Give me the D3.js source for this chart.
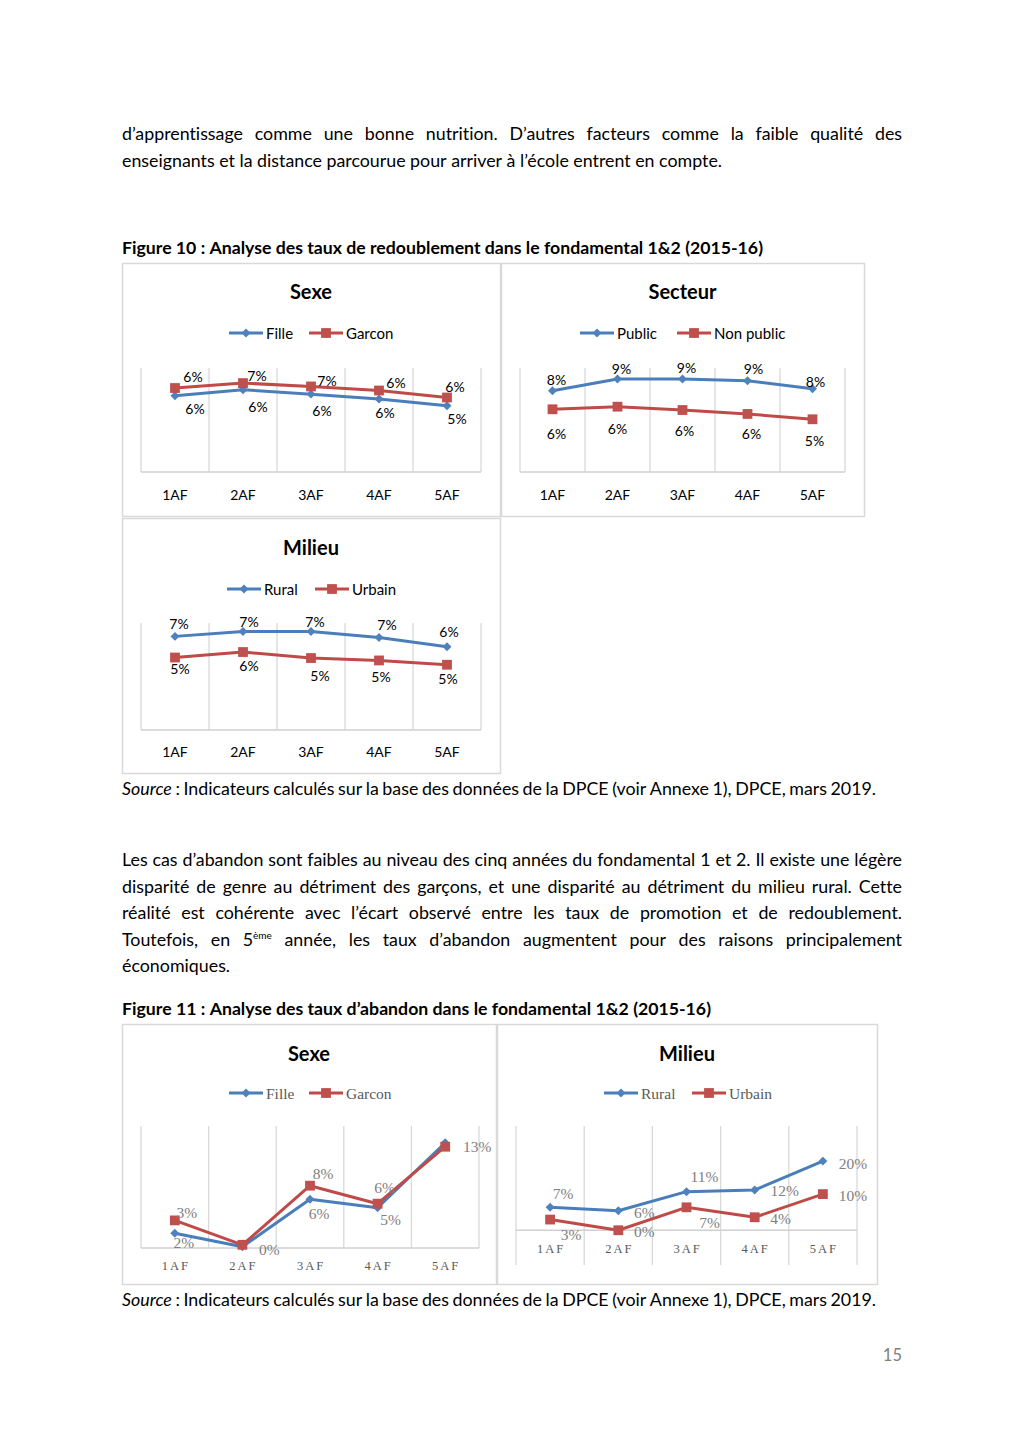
<!DOCTYPE html>
<html>
<head>
  <meta charset="utf-8">
  <title>Figures 10 et 11 - redoublement et abandon</title>
  <script src="https://cdn.jsdelivr.net/npm/d3@7"></script>
  <style>
    body { margin: 0; background: #fff; }
    svg { display: block; }
    text { font-variant-ligatures: none; }
  </style>
</head>
<body>
  <svg id="page" width="1024" height="1449"></svg>
  <script>
    // categories shared by every chart
    const categories = ["1AF", "2AF", "3AF", "4AF", "5AF"];

    // Figure 10 : taux de redoublement (en %)
    const redSexeFille = [5.86, 6.33, 5.99, 5.61, 5.09];
    const redSexeGarcon = [6.46, 6.84, 6.58, 6.27, 5.73];
    const redSecteurPublic = [7.82, 8.94, 8.94, 8.78, 8.01];
    const redSecteurNonPublic = [6.03, 6.28, 5.96, 5.58, 5.07];
    const redMilieuRural = [7.0, 7.37, 7.37, 6.92, 6.22];
    const redMilieuUrbain = [5.42, 5.83, 5.38, 5.2, 4.88];

    // Figure 11 : taux d'abandon (en %)
    const abSexeFille = [1.84, 0.16, 6.1, 5.04, 13.16];
    const abSexeGarcon = [3.45, 0.4, 7.79, 5.54, 12.66];
    const abMilieuRural = [6.6, 5.6, 11.1, 11.6, 19.9];
    const abMilieuUrbain = [3.08, 0.0, 6.6, 3.74, 10.4];

    const SANS = "Lato, 'Open Sans', sans-serif";
    const SERIF = "'Liberation Serif', 'DejaVu Serif', serif";
    const blue = "#4F81BD", red = "#C0504D";
    const grid = "#D9D9D9";

    const svg = d3.select("#page");
    svg.append("rect").attr("width", 1024).attr("height", 1449).attr("fill", "#fff");

    // ---------- body text ----------
    const LEFT = 122;

    // font size that makes a plain line as wide as it is in the document
    function fitSize(str, weight, target) {
      const t = svg.append("text")
        .style("font-family", SANS).style("font-size", "16px").style("font-weight", weight)
        .text(str);
      const w = t.node().getComputedTextLength();
      t.remove();
      return 16 * target / w;
    }

    // split runs into words, keeping each run's style
    function toWords(runs) {
      const words = [];
      let cur = [];
      runs.forEach(r => {
        r.t.split(" ").forEach((tok, k) => {
          if (k > 0 && cur.length) { words.push(cur); cur = []; }
          if (tok) cur.push(Object.assign({}, r, { t: tok }));
        });
      });
      if (cur.length) words.push(cur);
      return words;
    }

    // words are spread so the line ends where it ends in the document
    function drawLine(line, size, weight) {
      const words = toWords(line.runs);
      const nodes = words.map(w => {
        const t = svg.append("text")
          .attr("y", line.y + 6)
          .style("font-family", SANS)
          .style("font-size", size + "px")
          .style("font-weight", weight || 400)
          .attr("fill", "#000");
        w.forEach(r => {
          const ts = t.append("tspan").text(r.t);
          if (r.i) ts.style("font-style", "italic");
          if (r.sup) ts.style("font-size", "10px").attr("dy", -7);
        });
        return t;
      });
      const widths = nodes.map(n => n.node().getComputedTextLength());
      const gap = nodes.length > 1 ? (line.x1 - LEFT - d3.sum(widths)) / (nodes.length - 1) : 0;
      let x = LEFT;
      nodes.forEach((n, i) => { n.attr("x", x); x += widths[i] + gap; });
    }

    const bodyLines = [
      { y: 134, x1: 902, runs: [{ t: "d’apprentissage comme une bonne nutrition. D’autres facteurs comme la faible qualité des" }] },
      { y: 161, x1: 722, runs: [{ t: "enseignants et la distance parcourue pour arriver à l’école entrent en compte." }] },
      { y: 860, x1: 902, runs: [{ t: "Les cas d’abandon sont faibles au niveau des cinq années du fondamental 1 et 2. Il existe une légère" }] },
      { y: 887, x1: 902, runs: [{ t: "disparité de genre au détriment des garçons, et une disparité au détriment du milieu rural. Cette" }] },
      { y: 913, x1: 902, runs: [{ t: "réalité est cohérente avec l’écart observé entre les taux de promotion et de redoublement." }] },
      { y: 940, x1: 902, runs: [{ t: "Toutefois, en 5" }, { t: "ème", sup: true }, { t: " année, les taux d’abandon augmentent pour des raisons principalement" }] },
      { y: 966, x1: 229, runs: [{ t: "économiques." }] },
      { y: 789, x1: 876, runs: [{ t: "Source", i: true }, { t: " : Indicateurs calculés sur la base des données de la DPCE (voir Annexe 1), DPCE, mars 2019." }] },
      { y: 1300, x1: 876, runs: [{ t: "Source", i: true }, { t: " : Indicateurs calculés sur la base des données de la DPCE (voir Annexe 1), DPCE, mars 2019." }] }
    ];
    const bodySize = fitSize(bodyLines[1].runs[0].t, 400, 600);
    bodyLines.forEach(l => drawLine(l, bodySize));

    const fig10 = "Figure 10 : Analyse des taux de redoublement dans le fondamental 1&2 (2015-16)";
    const fig11 = "Figure 11 : Analyse des taux d’abandon dans le fondamental 1&2 (2015-16)";
    const boldSize = fitSize(fig10, 700, 641);
    drawLine({ y: 248, x1: 763, runs: [{ t: fig10 }] }, boldSize, 700);
    drawLine({ y: 1009, x1: 711, runs: [{ t: fig11 }] }, boldSize, 700);

    svg.append("text").attr("x", 902).attr("y", 1361)
      .attr("text-anchor", "end")
      .style("font-family", SANS).style("font-size", "16.5px")
      .attr("fill", "#808080").text("15");

    // ---------- charts ----------
    const charts = [
      {
        box: [122, 263, 378, 253], title: "Sexe", titleY: 291, legendY: 333, legendX: [229, 309],
        names: ["Fille", "Garcon"], series: [redSexeFille, redSexeGarcon],
        xr: [141, 481], plot: [472, 368], yDomain: [0, 8], catY: 495, serif: false,
        offsets: [
          [[20, 13], [15, 17], [11, 16], [6, 13], [10, 13]],
          [[18, -12], [14, -8], [16, -6], [17, -8], [8, -11]]
        ]
      },
      {
        box: [501, 263, 363, 253], title: "Secteur", titleY: 291, legendY: 333, legendX: [580, 677],
        names: ["Public", "Non public"], series: [redSecteurPublic, redSecteurNonPublic],
        xr: [520, 845], plot: [472, 368], yDomain: [0, 10], catY: 495, serif: false,
        offsets: [
          [[4, -11], [4, -11], [4, -12], [6, -12], [3, -7]],
          [[4, 24], [0, 22], [2, 20], [4, 20], [2, 21]]
        ]
      },
      {
        box: [122, 518, 378, 255], title: "Milieu", titleY: 547, legendY: 589, legendX: [227, 315],
        names: ["Rural", "Urbain"], series: [redMilieuRural, redMilieuUrbain],
        xr: [141, 481], plot: [730, 623], yDomain: [0, 8], catY: 752, serif: false,
        offsets: [
          [[4, -13], [6, -10], [4, -10], [8, -13], [2, -15]],
          [[5, 11], [6, 13], [9, 17], [2, 16], [1, 14]]
        ]
      },
      {
        box: [122, 1024, 374, 260], title: "Sexe", titleY: 1053, legendY: 1093, legendX: [229, 309],
        names: ["Fille", "Garcon"], series: [abSexeFille, abSexeGarcon],
        xr: [141, 479], plot: [1248, 1126], yDomain: [0, 15.25], catY: 1266, serif: true,
        offsets: [
          [[9, 9], [27, 3], [9, 14], [13, 12], null],
          [[12, -8], null, [13, -12], [7, -16], [32, 0]]
        ]
      },
      {
        box: [497, 1024, 380, 260], title: "Milieu", titleY: 1053, legendY: 1093, legendX: [604, 692],
        names: ["Rural", "Urbain"], series: [abMilieuRural, abMilieuUrbain],
        xr: [516, 857], plot: [1265, 1126], yDomain: [-10, 30], catY: 1249, serif: true,
        offsets: [
          [[13, -14], [26, 2], [18, -15], [30, 1], [30, 2]],
          [[21, 15], [26, 1], [23, 15], [26, 1], [30, 1]]
        ]
      }
    ];

    const colors = [blue, red];
    const lineColors = ["#4A7EBB", "#BE4B48"];

    function marker(sel, k) {
      if (k === 0) {
        sel.attr("d", d3.symbol(d3.symbolSquare, 40)())
          .attr("transform", function () { return d3.select(this).attr("transform") + " rotate(45)"; });
      } else {
        sel.attr("d", d3.symbol(d3.symbolSquare, 96)());
      }
      sel.attr("fill", colors[k]);
    }

    function drawChart(c) {
      const g = svg.append("g");
      const [bx, by, bw, bh] = c.box;
      const textFont = c.serif ? SERIF : SANS;
      const textCol = c.serif ? "#595959" : "#000";

      g.append("rect")
        .attr("x", bx + 0.5).attr("y", by + 0.5)
        .attr("width", bw).attr("height", bh)
        .attr("fill", "#fff").attr("stroke", grid).attr("stroke-width", 1.5);

      g.append("text")
        .attr("x", bx + bw / 2).attr("y", c.titleY)
        .attr("text-anchor", "middle").attr("dominant-baseline", "central")
        .style("font-family", SANS).style("font-size", "20px").style("font-weight", 700)
        .text(c.title);

      // legend
      c.names.forEach((name, k) => {
        const lx = c.legendX[k];
        g.append("line")
          .attr("x1", lx).attr("x2", lx + 34)
          .attr("y1", c.legendY).attr("y2", c.legendY)
          .attr("stroke", lineColors[k]).attr("stroke-width", 3);
        g.append("path")
          .attr("transform", `translate(${lx + 17},${c.legendY})`)
          .call(marker, k);
        g.append("text")
          .attr("x", lx + 37).attr("y", c.legendY)
          .attr("dominant-baseline", "central")
          .style("font-family", textFont).style("font-size", c.serif ? "15.5px" : "15px")
          .attr("fill", textCol)
          .text(name);
      });

      const x = d3.scaleBand().domain(categories).range(c.xr).padding(0);
      const y = d3.scaleLinear().domain(c.yDomain).range(c.plot);
      const cx = d => x(d) + x.bandwidth() / 2;

      // vertical gridlines at category boundaries
      const bounds = categories.map(d => x(d)).concat([c.xr[1]]);
      g.selectAll(".grid").data(bounds).join("line")
        .attr("class", "grid")
        .attr("x1", d => d).attr("x2", d => d)
        .attr("y1", c.plot[1]).attr("y2", c.plot[0])
        .attr("stroke", grid).attr("stroke-width", 1.3);

      // horizontal axis at zero
      g.append("line")
        .attr("x1", c.xr[0]).attr("x2", c.xr[1])
        .attr("y1", y(0)).attr("y2", y(0))
        .attr("stroke", "#D0D0D0").attr("stroke-width", 1.3);

      // category labels
      const ax = g.append("g")
        .attr("transform", `translate(0,${c.catY})`)
        .call(d3.axisBottom(x).tickSize(0).tickPadding(0));
      ax.select(".domain").remove();
      ax.selectAll("text")
        .attr("y", 0).attr("dy", "0.35em")
        .attr("dx", c.serif ? 1 : 0)
        .style("font-family", textFont)
        .style("font-size", c.serif ? "12.5px" : "14px")
        .style("letter-spacing", c.serif ? "2px" : "0px")
        .attr("fill", textCol);

      const line = d3.line().x((d, i) => cx(categories[i])).y(d => y(d));

      c.series.forEach((vals, k) => {
        g.append("path")
          .datum(vals)
          .attr("d", line)
          .attr("fill", "none")
          .attr("stroke", lineColors[k])
          .attr("stroke-width", 3)
          .attr("stroke-linejoin", "round");
      });

      c.series.forEach((vals, k) => {
        g.selectAll(".m" + k).data(vals).join("path")
          .attr("class", "m" + k)
          .attr("transform", (d, i) => `translate(${cx(categories[i])},${y(d)})`)
          .call(marker, k);
      });

      // data labels
      c.series.forEach((vals, k) => {
        const pts = vals.map((v, i) => ({ v, i, off: c.offsets[k][i] })).filter(p => p.off);
        g.selectAll(".lab" + k).data(pts).join("text")
          .attr("class", "lab" + k)
          .attr("x", p => cx(categories[p.i]) + p.off[0])
          .attr("y", p => y(p.v) + p.off[1])
          .attr("text-anchor", "middle").attr("dominant-baseline", "central")
          .style("font-family", textFont)
          .style("font-size", c.serif ? "15.5px" : "14px")
          .attr("fill", c.serif ? "#808080" : "#000")
          .text(p => Math.round(p.v) + "%");
      });
    }

    charts.forEach(drawChart);
  </script>
</body>
</html>
